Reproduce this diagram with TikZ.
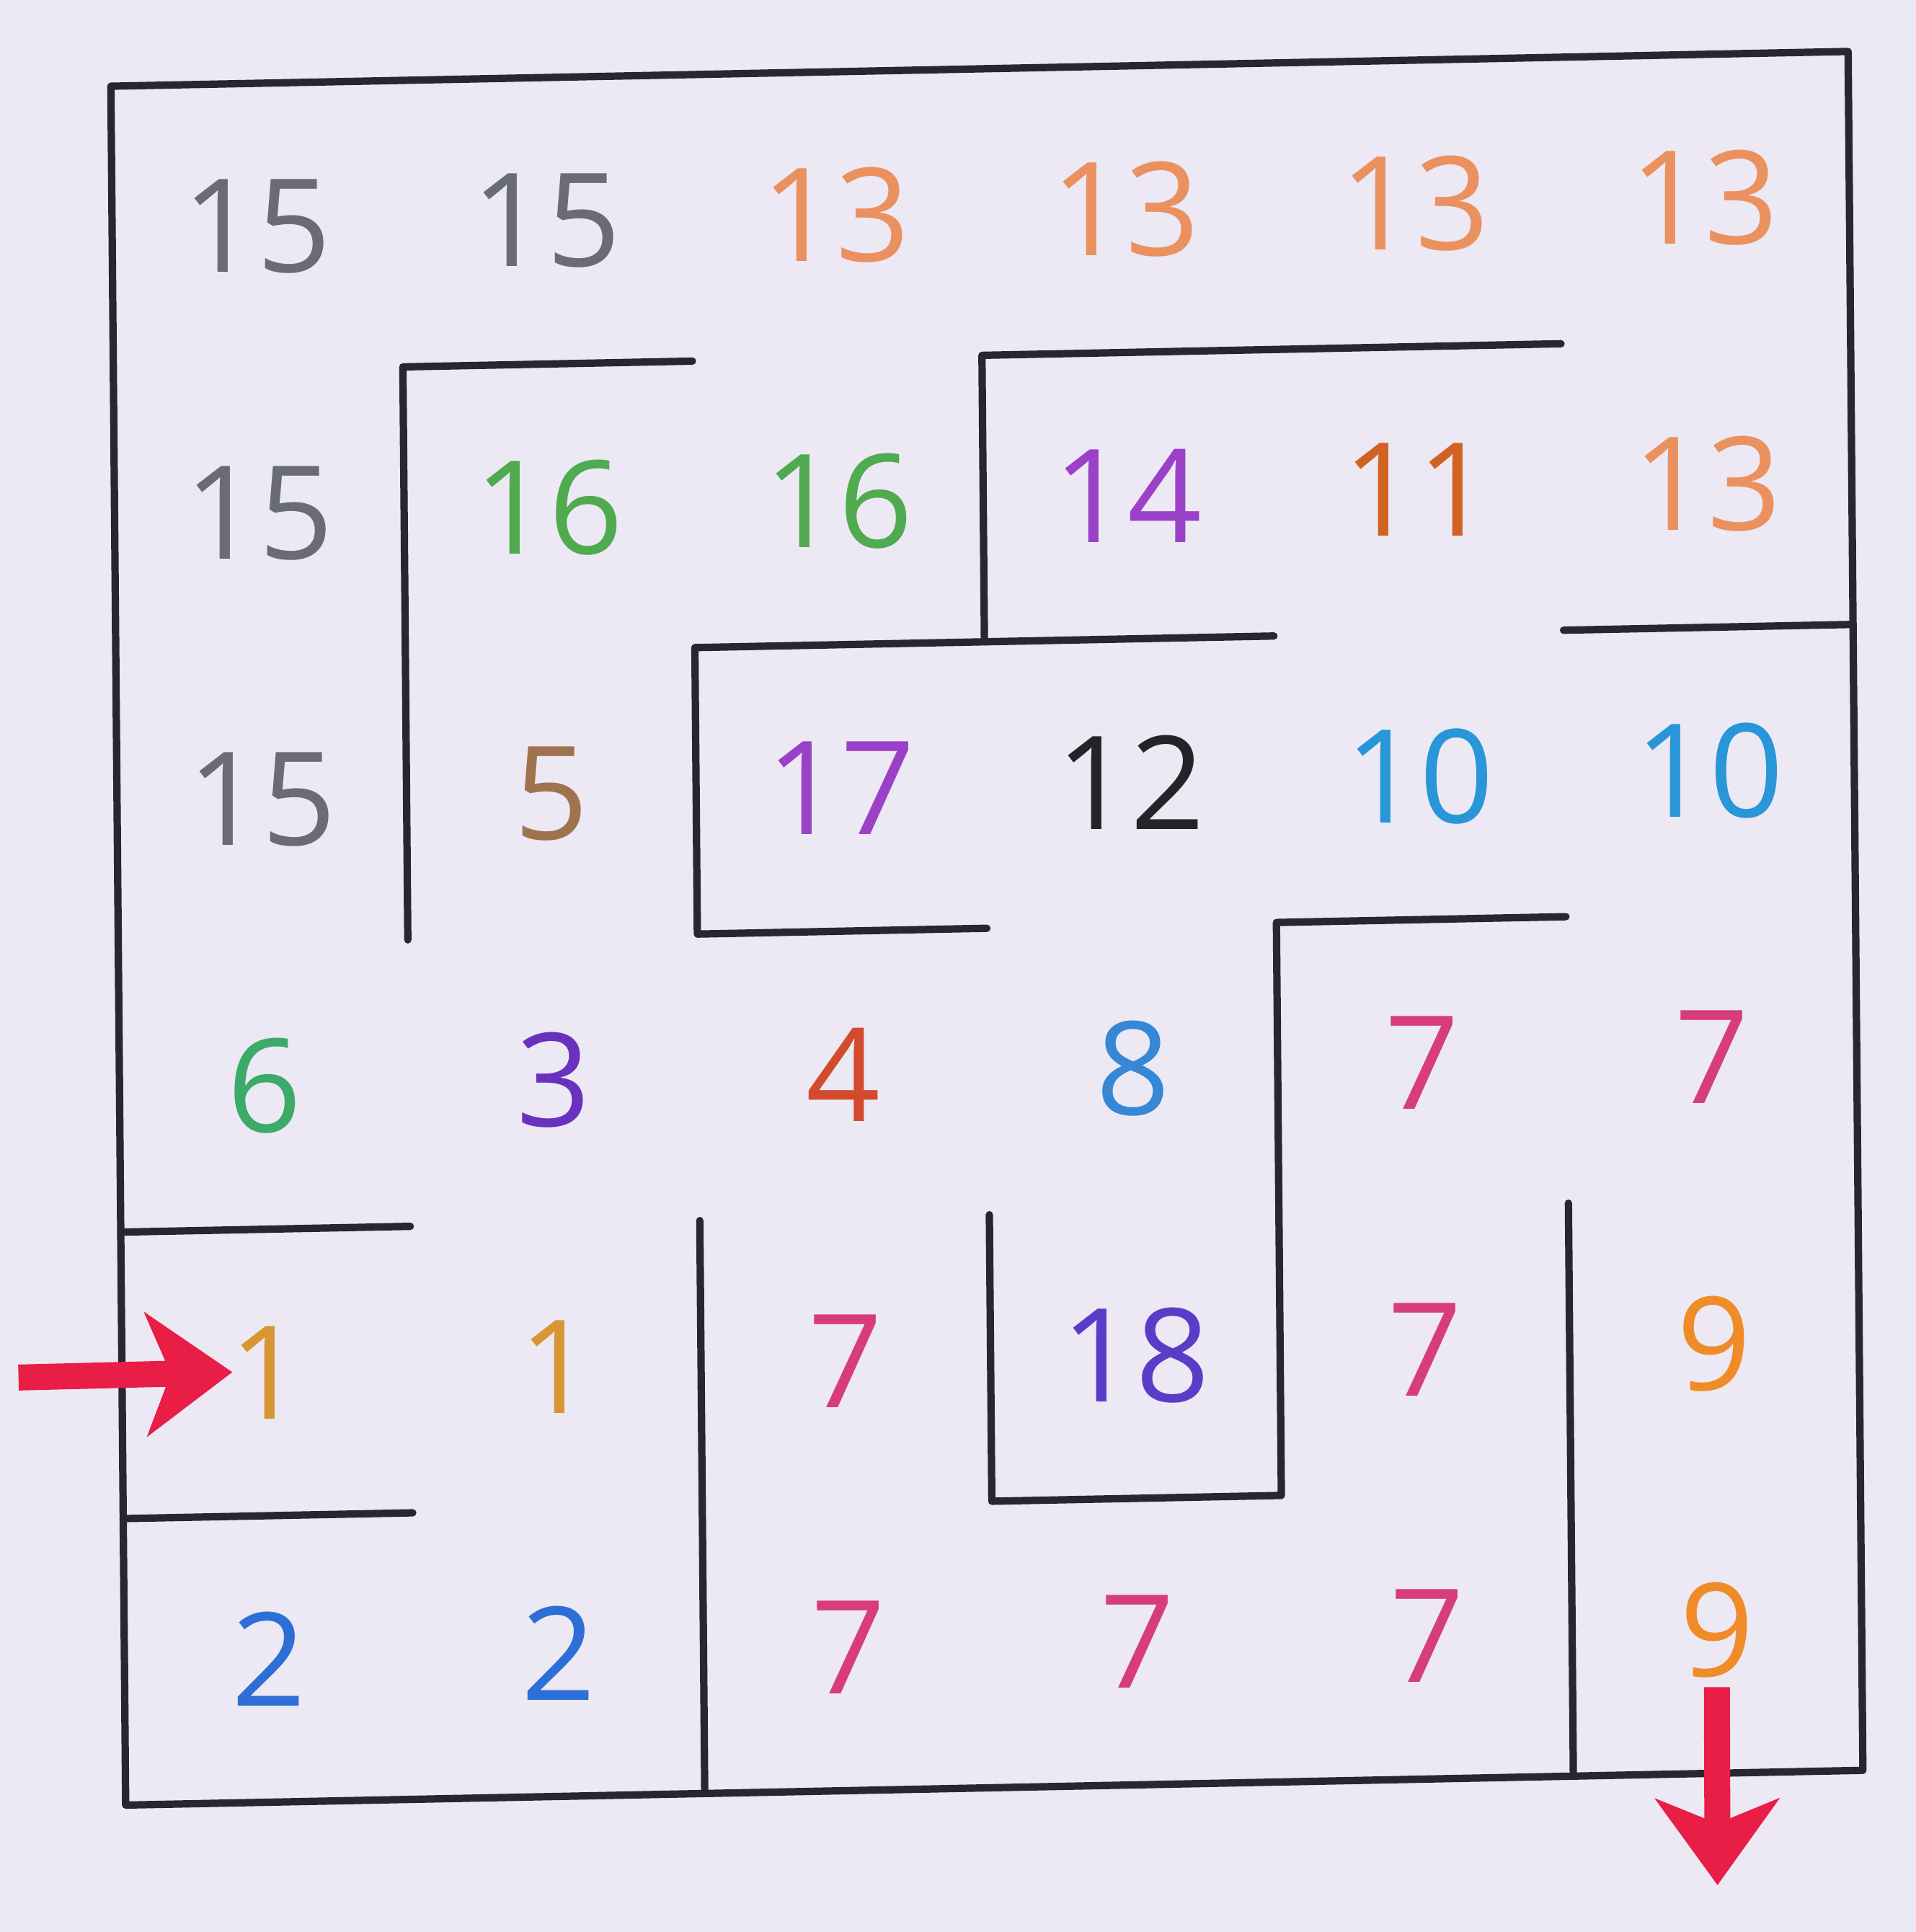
\documentclass[tikz,border=0pt]{standalone}
\usepackage{fontspec}
\setmainfont{Open Sans}
\usepackage{xcolor}
\usepackage{tikz}
\usetikzlibrary{arrows.meta}

\definecolor{paper}{RGB}{236,233,244}
\definecolor{wallgray}{RGB}{40,38,52}
\definecolor{arrowred}{RGB}{232,30,70}
\definecolor{pencilgray}{RGB}{105,108,114}
\definecolor{peach}{RGB}{234,145,95}
\definecolor{leafgreen}{RGB}{80,170,80}
\definecolor{lilac}{RGB}{155,65,200}
\definecolor{rust}{RGB}{210,98,35}
\definecolor{umber}{RGB}{160,115,80}
\definecolor{ink}{RGB}{35,35,40}
\definecolor{sky}{RGB}{40,150,215}
\definecolor{mint}{RGB}{60,170,105}
\definecolor{grape}{RGB}{105,50,190}
\definecolor{brick}{RGB}{210,75,45}
\definecolor{cornflower}{RGB}{55,135,215}
\definecolor{rose}{RGB}{215,60,125}
\definecolor{indigoink}{RGB}{90,60,200}
\definecolor{ochre}{RGB}{215,150,50}
\definecolor{royal}{RGB}{45,110,215}
\definecolor{tangerine}{RGB}{240,140,40}

\tikzset{
    wall/.style={draw=wallgray, line width=1.7pt, line cap=round, line join=round},
    cellnum/.style={font=\fontsize{30}{30}\selectfont, inner sep=2pt},
    redarrow/.style={draw=arrowred, line width=6pt, -{Stealth[length=0.7cm, width=1.0cm, inset=0.2cm]}}
}

\begin{document}
\begin{tikzpicture}
    \fill[paper] (0,0) rectangle (15.55,15.68);
    \useasboundingbox (0,0) rectangle (15.55,15.68);

    \begin{scope}[shift={(1.02,1.03)}, x={(2.35cm,0.047cm)}, y={(-0.02cm,2.325cm)}]
    % frame
    \draw[wall] (0,0) -- (6,0) -- (6,6) -- (0,6) -- cycle;
    % walls inside
    \draw[wall] (1,3) -- (1,5) -- (2,5);
    \draw[wall] (3,4) -- (3,5) -- (5,5);
    \draw[wall] (4,4) -- (2,4) -- (2,3) -- (3,3);
    \draw[wall] (5,4) -- (6,4);
    \draw[wall] (5,3) -- (4,3) -- (4,1) -- (3,1) -- (3,2);
    \draw[wall] (0,2) -- (1,2);
    \draw[wall] (0,1) -- (1,1);
    \draw[wall] (2,0) -- (2,2);
    \draw[wall] (5,0) -- (5,2);

    % row 0
    \node[cellnum, text=pencilgray] (r0c0) at (0.5,5.5) {15};
    \node[cellnum, text=pencilgray] (r0c1) at (1.5,5.5) {15};
    \node[cellnum, text=peach] (r0c2) at (2.5,5.5) {13};
    \node[cellnum, text=peach] (r0c3) at (3.5,5.5) {13};
    \node[cellnum, text=peach] (r0c4) at (4.5,5.5) {13};
    \node[cellnum, text=peach] (r0c5) at (5.5,5.5) {13};
    % row 1
    \node[cellnum, text=pencilgray] (r1c0) at (0.5,4.5) {15};
    \node[cellnum, text=leafgreen] (r1c1) at (1.5,4.5) {16};
    \node[cellnum, text=leafgreen] (r1c2) at (2.5,4.5) {16};
    \node[cellnum, text=lilac] (r1c3) at (3.5,4.5) {14};
    \node[cellnum, text=rust] (r1c4) at (4.5,4.5) {11};
    \node[cellnum, text=peach] (r1c5) at (5.5,4.5) {13};
    % row 2
    \node[cellnum, text=pencilgray] (r2c0) at (0.5,3.5) {15};
    \node[cellnum, text=umber] (r2c1) at (1.5,3.5) {5};
    \node[cellnum, text=lilac] (r2c2) at (2.5,3.5) {17};
    \node[cellnum, text=ink] (r2c3) at (3.5,3.5) {12};
    \node[cellnum, text=sky] (r2c4) at (4.5,3.5) {10};
    \node[cellnum, text=sky] (r2c5) at (5.5,3.5) {10};
    % row 3
    \node[cellnum, text=mint] (r3c0) at (0.5,2.5) {6};
    \node[cellnum, text=grape] (r3c1) at (1.5,2.5) {3};
    \node[cellnum, text=brick] (r3c2) at (2.5,2.5) {4};
    \node[cellnum, text=cornflower] (r3c3) at (3.5,2.5) {8};
    \node[cellnum, text=rose] (r3c4) at (4.5,2.5) {7};
    \node[cellnum, text=rose] (r3c5) at (5.5,2.5) {7};
    % row 4
    \node[cellnum, text=ochre] (r4c0) at (0.5,1.5) {1};
    \node[cellnum, text=ochre] (r4c1) at (1.5,1.5) {1};
    \node[cellnum, text=rose] (r4c2) at (2.5,1.5) {7};
    \node[cellnum, text=indigoink] (r4c3) at (3.5,1.5) {18};
    \node[cellnum, text=rose] (r4c4) at (4.5,1.5) {7};
    \node[cellnum, text=tangerine] (r4c5) at (5.5,1.5) {9};
    % row 5
    \node[cellnum, text=royal] (r5c0) at (0.5,0.5) {2};
    \node[cellnum, text=royal] (r5c1) at (1.5,0.5) {2};
    \node[cellnum, text=rose] (r5c2) at (2.5,0.5) {7};
    \node[cellnum, text=rose] (r5c3) at (3.5,0.5) {7};
    \node[cellnum, text=rose] (r5c4) at (4.5,0.5) {7};
    \node[cellnum, text=tangerine] (r5c5) at (5.5,0.5) {9};
    \end{scope}

    % way in and way out
    \coordinate (entry) at (0.15,4.50);
    \coordinate (exit) at (13.94,0.38);
    \draw[redarrow, shorten >=-0.1cm] (entry) -- (r4c0.west);
    \draw[redarrow] (r5c5.south) -- (exit);
\end{tikzpicture}
\end{document}
